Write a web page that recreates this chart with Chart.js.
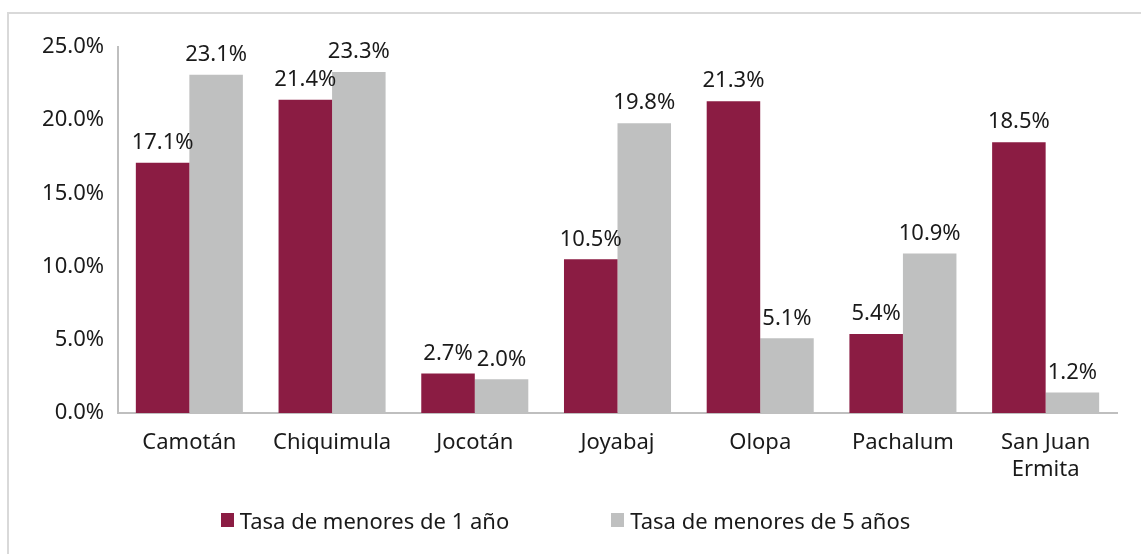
<!DOCTYPE html>
<html>
<head>
<meta charset="utf-8">
<script src="https://cdn.jsdelivr.net/npm/chart.js@4.4.1/dist/chart.umd.min.js"></script>
<style>
  html, body { margin: 0; padding: 0; background: #fff; }
  #wrap { position: relative; width: 1141px; height: 554px; overflow: hidden; }
  #frame { position: absolute; left: 7px; top: 12px; width: 1200px; height: 600px;
           border-left: 2px solid #d9d9d9; border-top: 2px solid #d9d9d9; box-sizing: border-box; }
  #myChart { position: absolute; left: 0; top: 0; }
  #legend { position: absolute; left: 0; top: 505px; width: 1131px; display: flex; justify-content: center;
            font: 22px "Noto Sans", sans-serif; color: #1a1a1a; }
  #legend .item { display: flex; align-items: center; margin: 0 51px; }
  #legend .box { width: 13px; height: 14px; margin-right: 6px; }
</style>
</head>
<body>
<div id="wrap">
  <div id="frame"></div>
  <canvas id="myChart" width="1141" height="554"></canvas>
  <div id="legend"></div>
</div>
<script>
// Municipios
const categories = ['Camotán', 'Chiquimula', 'Jocotán', 'Joyabaj', 'Olopa', 'Pachalum', ['San Juan', 'Ermita']];
const seriesNames = ['Tasa de menores de 1 año', 'Tasa de menores de 5 años'];
const seriesColors = ['#8b1c43', '#bfc0c0'];

// bar heights (%)
const menores1 = [17.1, 21.4, 2.7, 10.5, 21.3, 5.4, 18.5];
const menores5 = [23.1, 23.3, 2.3, 19.8, 5.1, 10.9, 1.4];

// labels printed over the bars
const labels1 = ['17.1%', '21.4%', '2.7%', '10.5%', '21.3%', '5.4%', '18.5%'];
const labels5 = ['23.1%', '23.3%', '2.0%', '19.8%', '5.1%', '10.9%', '1.2%'];

const yTicks = [0, 5, 10, 15, 20, 25];

const FONT = '"Noto Sans", sans-serif';

// draw value labels on top of each bar
const barLabels = {
  id: 'barLabels',
  afterDatasetsDraw(chart) {
    const ctx = chart.ctx;
    const texts = [labels1, labels5];
    ctx.save();
    ctx.font = '22px ' + FONT;
    ctx.fillStyle = '#1a1a1a';
    ctx.textAlign = 'center';
    ctx.textBaseline = 'bottom';
    chart.data.datasets.forEach((ds, i) => {
      chart.getDatasetMeta(i).data.forEach((bar, j) => {
        ctx.fillText(texts[i][j], bar.x, bar.y - 9);
      });
    });
    ctx.restore();
  }
};

const ctx = document.getElementById('myChart').getContext('2d');
new Chart(ctx, {
  type: 'bar',
  data: {
    labels: categories,
    datasets: seriesNames.map((name, i) => ({
      label: name,
      data: i === 0 ? menores1 : menores5,
      backgroundColor: seriesColors[i],
      categoryPercentage: 0.75,
      barPercentage: 1.0
    }))
  },
  options: {
    responsive: false,
    animation: false,
    layout: { padding: { left: 20, right: 24, top: 47, bottom: 71 } },
    plugins: {
      tooltip: { enabled: false },
      legend: { display: false }
    },
    scales: {
      x: {
        grid: { display: false, drawTicks: false },
        border: { display: true, color: '#bfbfbf', width: 2 },
        ticks: { font: { family: FONT, size: 22 }, color: '#1a1a1a', padding: 17, maxRotation: 0 },
        afterFit(scale) { scale.height = 70; }
      },
      y: {
        min: 0,
        max: 25,
        afterBuildTicks(scale) { scale.ticks = yTicks.map(v => ({ value: v })); },
        grid: { display: false, drawTicks: false },
        border: { display: true, color: '#bfbfbf', width: 2 },
        ticks: {
          font: { family: FONT, size: 22 },
          color: '#1a1a1a',
          padding: 14,
          callback: v => v.toFixed(1) + '%'
        },
        afterFit(scale) { scale.width = 98; }
      }
    }
  },
  plugins: [barLabels]
});

// legend
const legendEl = document.getElementById('legend');
seriesNames.forEach((name, i) => {
  const item = document.createElement('div');
  item.className = 'item';
  item.innerHTML = '<span class="box" style="background:' + seriesColors[i] + '"></span>' + name;
  legendEl.appendChild(item);
});
</script>
</body>
</html>
